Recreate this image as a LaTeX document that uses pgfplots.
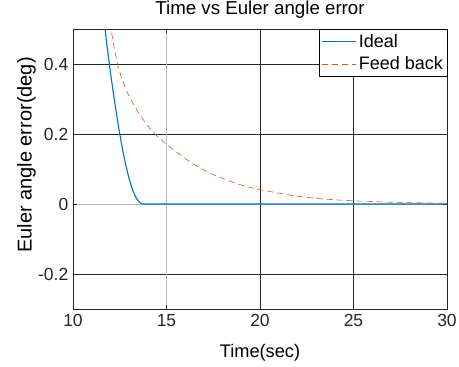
\documentclass[border=0pt]{standalone}
\usepackage{pgfplots}
\pgfplotsset{compat=1.18}
\usepackage{fontspec}
\setmainfont{Liberation Sans}

\definecolor{axdark}{rgb}{0.15,0.15,0.15}
\definecolor{gridlight}{rgb}{0.72,0.72,0.72}
\definecolor{idealblue}{rgb}{0,0.447,0.741}
\definecolor{fborange}{rgb}{0.85,0.325,0.098}

\begin{document}
\begin{tikzpicture}
\useasboundingbox (0,0) rectangle (459bp,367bp);
\begin{axis}[
  at={(73bp,58bp)}, anchor=south west,
  scale only axis, width=374bp, height=280bp,
  xmin=10, xmax=30, ymin=-0.3, ymax=0.5,
  xtick={10,20,25,30}, ytick={-0.2,0.2,0.4},
  extra x ticks={15}, extra y ticks={0},
  extra tick style={major grid style={color=gridlight, line width=0.6bp}},
  grid=major,
  major grid style={color=axdark, line width=0.6bp},
  axis line style={color=axdark, line width=0.6bp},
  tick style={color=axdark, line width=0.6bp},
  tick align=inside, major tick length=4bp,
  /pgf/number format/assume math mode=true,
  /pgf/number format/fixed,
  ticklabel style={font=\fontsize{17.5bp}{20bp}\selectfont, color=axdark},
  xticklabel style={anchor=base, yshift=-17.7bp, inner sep=0pt},
  yticklabel style={anchor=east, xshift=-4.5bp, inner sep=0pt},
  title={Time vs Euler angle error},
  title style={font=\fontsize{18.7bp}{21bp}\selectfont, anchor=base,
    at={(axis description cs:0.5,1)}, yshift=8.3bp, inner sep=0pt},
  xlabel={Time(sec)},
  xlabel style={font=\fontsize{18.2bp}{21bp}\selectfont, anchor=base,
    at={(axis description cs:0.5,0)}, yshift=-48bp, inner sep=0pt},
  ylabel={Euler angle error(deg)},
  ylabel style={font=\fontsize{20bp}{22bp}\selectfont, anchor=base,
    at={(axis description cs:-0.1104,0.55)}, inner sep=0pt},
  legend cell align=left,
  legend style={at={(rel axis cs:1,1)}, anchor=north east,
    fill=white,
    font=\fontsize{18bp}{20bp}\selectfont,
    inner xsep=2bp, inner ysep=3bp, row sep=4bp},
]
% ideal controller: error reaches zero shortly before 14 s
\addplot[color=idealblue, line width=1.1bp,
  legend image code/.code={\draw[draw=idealblue, line width=1.6bp, solid]
    (0bp,0bp) -- (34bp,0bp);}] coordinates {
  (11.6,0.551) (11.8,0.460) (12.0,0.377) (12.2,0.301) (12.4,0.232)
  (12.6,0.170) (12.8,0.116) (13.0,0.072) (13.2,0.038) (13.4,0.015)
  (13.6,0.003) (13.75,0) (20,0) (30,0)
};
\addlegendentry{Ideal}
% feedback controller: slow decay towards zero
\addplot[color=fborange, line width=0.6bp, dash pattern=on 6bp off 4bp,
  legend image code/.code={\draw[draw=fborange, line width=0.6bp,
    dash pattern=on 6bp off 4bp] (0bp,0bp) -- (34bp,0bp);}] coordinates {
  (11.85,0.545) (12.0,0.510) (12.2,0.447) (12.4,0.395) (12.6,0.360)
  (12.8,0.332) (13.0,0.308) (13.5,0.260) (14.0,0.223) (14.5,0.194)
  (15.0,0.170) (15.5,0.150) (16.0,0.130) (16.5,0.112) (17.0,0.097)
  (17.5,0.084) (18.0,0.073) (18.5,0.063) (19.0,0.054) (19.5,0.047)
  (20.0,0.041) (21.0,0.031) (22.0,0.022) (23.0,0.016) (24.0,0.012)
  (25.0,0.009) (26.0,0.007) (27.0,0.005) (28.0,0.004) (29.0,0.003)
  (30.0,0.002)
};
\addlegendentry{Feed back}
\end{axis}
\end{tikzpicture}
\end{document}
